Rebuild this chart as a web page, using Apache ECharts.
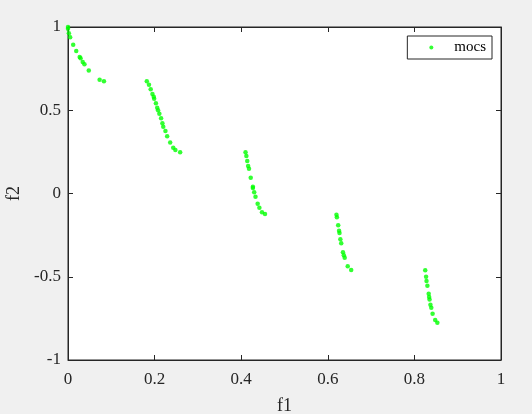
<!DOCTYPE html>
<html lang="en">
<head>
    <meta charset="UTF-8">
    <title>mocs</title>
    <script type="text/javascript" src="https://cdn.jsdelivr.net/npm/echarts@6/dist/echarts.min.js"></script>
    <style>
        html, body { margin: 0; padding: 0; background: #f0f0f0; }
    </style>
</head>
<body>
<div id="main" style="width: 532px;height:414px;"></div>
<script>
    // f1 / f2 values
    var f1 = [0.000, 0.000, 0.002, 0.005, 0.012, 0.019, 0.027, 0.029, 0.034, 0.038, 0.048, 0.073, 0.083,
        0.182, 0.187, 0.191, 0.195, 0.198, 0.199, 0.203, 0.206, 0.208, 0.211, 0.215, 0.218, 0.220, 0.225, 0.229, 0.236, 0.243, 0.248, 0.259,
        0.410, 0.412, 0.414, 0.416, 0.418, 0.422, 0.427, 0.427, 0.430, 0.433, 0.438, 0.442, 0.448, 0.455,
        0.620, 0.621, 0.624, 0.626, 0.627, 0.629, 0.631, 0.635, 0.637, 0.639, 0.646, 0.654,
        0.825, 0.827, 0.828, 0.830, 0.833, 0.834, 0.835, 0.837, 0.839, 0.842, 0.848, 0.853];
    var f2 = [1.000, 0.990, 0.962, 0.938, 0.894, 0.856, 0.820, 0.812, 0.790, 0.776, 0.738, 0.683, 0.674,
        0.674, 0.653, 0.626, 0.598, 0.581, 0.569, 0.542, 0.515, 0.500, 0.479, 0.452, 0.422, 0.401, 0.375, 0.344, 0.307, 0.275, 0.261, 0.247,
        0.247, 0.225, 0.195, 0.165, 0.149, 0.095, 0.041, 0.033, 0.007, -0.019, -0.061, -0.085, -0.113, -0.123,
        -0.127, -0.143, -0.191, -0.223, -0.237, -0.275, -0.299, -0.353, -0.371, -0.386, -0.437, -0.459,
        -0.461, -0.500, -0.526, -0.554, -0.602, -0.622, -0.636, -0.668, -0.686, -0.722, -0.760, -0.776];
    var xTicks = [0, 0.2, 0.4, 0.6, 0.8, 1];
    var yTicks = [-1, -0.5, 0, 0.5, 1];

    var points = [];
    for (var i = 0; i < f1.length; i++) {
        points.push([f1[i], f2[i]]);
    }

    var font = '"Liberation Serif", "Times New Roman", serif';
    var tickStyle = {show: true, inside: true, length: 5, lineStyle: {color: '#262626'}};
    var lineStyle = {show: true, onZero: false, lineStyle: {color: '#262626', width: 1}};

    function fmt(v) {
        return String(v);
    }

    var myChart = echarts.init(document.getElementById('main'));
    var option = {
        backgroundColor: '#f0f0f0',
        animation: false,
        grid: {
            left: 68, right: 31, top: 27, bottom: 54,
            outerBoundsMode: 'none', containLabel: false,
            show: true, backgroundColor: '#ffffff', borderColor: '#262626', borderWidth: 1
        },
        legend: {
            data: ['mocs'],
            right: 40, top: 36,
            orient: 'vertical',
            backgroundColor: '#ffffff',
            borderColor: '#262626', borderWidth: 1,
            padding: [4, 6, 4, 22],
            itemWidth: 4, itemHeight: 4,
            icon: 'circle',
            textStyle: {fontFamily: font, fontSize: 15, color: '#000', padding: [0, 0, 0, 16]}
        },
        xAxis: [{
            type: 'value', min: 0, max: 1, interval: 0.2,
            name: 'f1', nameLocation: 'middle', nameGap: 37,
            nameTextStyle: {fontFamily: font, fontSize: 18, color: '#262626'},
            axisLine: lineStyle, axisTick: tickStyle, splitLine: {show: false},
            axisLabel: {fontFamily: font, fontSize: 17, color: '#262626', margin: 11, formatter: fmt}
        }, {
            type: 'value', min: 0, max: 1, interval: 0.2, position: 'top',
            axisLine: lineStyle, axisTick: tickStyle, splitLine: {show: false},
            axisLabel: {show: false}
        }],
        yAxis: [{
            type: 'value', min: -1, max: 1, interval: 0.5,
            name: 'f2', nameLocation: 'middle', nameGap: 45,
            nameTextStyle: {fontFamily: font, fontSize: 18, color: '#262626'},
            axisLine: lineStyle, axisTick: tickStyle, splitLine: {show: false},
            axisLabel: {fontFamily: font, fontSize: 17, color: '#262626', margin: 7, formatter: fmt}
        }, {
            type: 'value', min: -1, max: 1, interval: 0.5, position: 'right',
            axisLine: lineStyle, axisTick: tickStyle, splitLine: {show: false},
            axisLabel: {show: false}
        }],
        series: [{
            name: 'mocs',
            type: 'scatter',
            symbol: 'circle',
            symbolSize: 4.5,
            itemStyle: {color: '#00ff00'},
            data: points
        }]
    };
    myChart.setOption(option);
</script>
</body>
</html>
